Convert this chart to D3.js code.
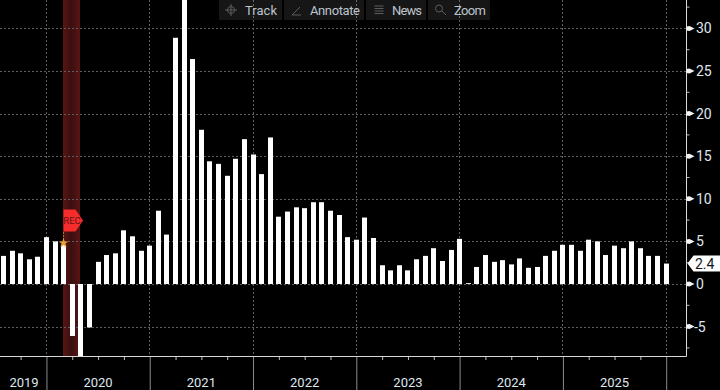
<!DOCTYPE html>
<html>
<head>
<meta charset="utf-8">
<script src="https://cdn.jsdelivr.net/npm/d3@7"></script>
<style>
  html, body { margin: 0; padding: 0; background: #000; overflow: hidden; }
  text { font-family: Roboto, "Noto Sans", sans-serif; }
</style>
</head>
<body>
<div id="chart"></div>
<script>
// monthly values, Aug 2019 to Jan 2026
const values = [
  3.3, 3.9, 3.6, 2.9, 3.2,
  5.5, 5.0, 4.6, -6.1, -9.5, -5.1, 2.6, 3.4, 3.6, 6.3, 5.6, 3.9,
  4.5, 8.6, 5.8, 28.9, 35, 26.4, 18.1, 14.4, 14.1, 12.7, 14.7, 17.0,
  15.2, 12.9, 17.2, 7.9, 8.5, 9.0, 8.9, 9.6, 9.6, 8.6, 8.1, 5.5,
  5.2, 7.8, 5.4, 2.2, 1.6, 2.2, 1.6, 2.9, 3.3, 4.2, 2.7, 4.0,
  5.3, 0.1, 2.0, 3.4, 2.6, 2.8, 2.3, 3.0, 1.9, 2.0, 3.3, 3.9,
  4.6, 4.6, 3.9, 5.2, 5.0, 3.4, 4.5, 4.2, 5.0, 4.2, 3.3, 3.3,
  2.4
];
const yearLabels = ["2019", "2020", "2021", "2022", "2023", "2024", "2025"];
const yearLabelAt = [2.4, 11, 23, 35, 47, 59, 71];  // bar index under each label
const yearStarts = [5, 17, 29, 41, 53, 65, 77];     // bar index of each January
const quarterTicks = [2, 8, 11, 14, 20, 23, 26, 32, 35, 38, 44, 47, 50, 56, 59, 62, 68, 71, 74];
const yMajor = [-5, 0, 5, 10, 15, 20, 25, 30];
const yMinor = [-7.5, -2.5, 2.5, 7.5, 12.5, 17.5, 22.5, 27.5, 32.5];
const lastValue = 2.4;
const recession = [7, 9];  // bar index range of the shaded band
const toolbar = ["Track", "Annotate", "News", "Zoom"];

const width = 720, height = 390, plotRight = 686.5, plotBottom = 356;

const x = d3.scaleLinear().domain([0, 77]).range([3.4, 666.2]);
const y = d3.scaleLinear().domain([0, 30]).range([284, 28.4]);

const svg = d3.select("#chart").append("svg")
  .attr("width", width)
  .attr("height", height)
  .style("display", "block");

const defs = svg.append("defs");

defs.append("clipPath").attr("id", "plot")
  .append("rect")
  .attr("width", plotRight)
  .attr("height", plotBottom);

const bandGrad = defs.append("linearGradient").attr("id", "recBand");
bandGrad.append("stop").attr("offset", "0%").attr("stop-color", "#5a1414");
bandGrad.append("stop").attr("offset", "50%").attr("stop-color", "#3a0f0f");
bandGrad.append("stop").attr("offset", "100%").attr("stop-color", "#5a1414");

// recession band
svg.append("rect")
  .attr("x", Math.floor(x(recession[0])))
  .attr("y", 0)
  .attr("width", Math.floor(x(recession[1])) - Math.floor(x(recession[0])))
  .attr("height", plotBottom)
  .attr("fill", "url(#recBand)");

// dotted grid
const grid = svg.append("g")
  .attr("stroke", "#5e5e5e")
  .attr("stroke-width", 1)
  .attr("stroke-dasharray", "2 2");

grid.selectAll("line.h")
  .data(yMajor)
  .join("line")
  .attr("class", "h")
  .attr("x1", 0)
  .attr("x2", plotRight)
  .attr("y1", d => Math.round(y(d)) + 0.5)
  .attr("y2", d => Math.round(y(d)) + 0.5);

grid.selectAll("line.v")
  .data(yearStarts)
  .join("line")
  .attr("class", "v")
  .attr("x1", d => Math.floor(x(d)) + 0.5)
  .attr("x2", d => Math.floor(x(d)) + 0.5)
  .attr("y1", 0)
  .attr("y2", plotBottom);

// bars
svg.append("g")
  .attr("clip-path", "url(#plot)")
  .attr("fill", "#fff")
  .selectAll("rect")
  .data(values)
  .join("rect")
  .attr("x", (d, i) => Math.round(x(i) - 2.5))
  .attr("width", 5)
  .attr("y", d => y(Math.max(d, 0)))
  .attr("height", d => Math.abs(y(d) - y(0)));

// x axis: year ticks run down through the label row
const xAxis = svg.append("g").attr("transform", `translate(0,${plotBottom})`);

xAxis.append("g")
  .attr("class", "years")
  .call(d3.axisBottom(x).tickValues(yearStarts).tickSize(34).tickFormat(""))
  .call(g => g.select(".domain").remove())
  .selectAll("line")
  .attr("stroke", "#8c8c8c");

xAxis.append("g")
  .call(d3.axisBottom(x).tickValues(quarterTicks).tickSize(4).tickFormat(""))
  .call(g => g.select(".domain").remove())
  .selectAll("line")
  .attr("stroke", "#bdbdbd");

xAxis.append("line")
  .attr("x1", 0)
  .attr("x2", plotRight)
  .attr("y1", 0.5)
  .attr("y2", 0.5)
  .attr("stroke", "#d8d8d8");

xAxis.selectAll("text.year")
  .data(yearLabels)
  .join("text")
  .attr("class", "year")
  .attr("x", (d, i) => x(yearLabelAt[i]))
  .attr("y", 31)
  .attr("text-anchor", "middle")
  .attr("font-size", 13)
  .attr("fill", "#dfe6ee")
  .text(d => d);

// y axis on the right
const yAxis = svg.append("g").attr("transform", `translate(${plotRight},0)`);

yAxis.append("line")
  .attr("y1", 0)
  .attr("y2", plotBottom + 0.5)
  .attr("stroke", "#d8d8d8");

yAxis.selectAll("path.major")
  .data(yMajor)
  .join("path")
  .attr("class", "major")
  .attr("transform", d => `translate(0,${y(d)})`)
  .attr("d", "M0,-2L3,-2.5L8,0L3,2.5L0,2Z")
  .attr("fill", "#f4f4f4");

yAxis.selectAll("line.minor")
  .data(yMinor)
  .join("line")
  .attr("class", "minor")
  .attr("x2", 3)
  .attr("y1", d => y(d))
  .attr("y2", d => y(d))
  .attr("stroke", "#bdbdbd");

yAxis.selectAll("text.tick")
  .data(yMajor)
  .join("text")
  .attr("class", "tick")
  .attr("x", d => d < 0 ? 7.5 : 9.5)
  .attr("y", d => y(d) + 5)
  .attr("font-size", 14)
  .attr("fill", "#dfe6ee")
  .text(d => d);

// last value tag
const lastTag = yAxis.append("g").attr("transform", `translate(0,${y(lastValue)})`);
lastTag.append("path")
  .attr("d", "M1,0L7,-8L33.5,-8L33.5,8L7,8Z")
  .attr("fill", "#fff");
lastTag.append("text")
  .attr("x", 8.5)
  .attr("y", 5)
  .attr("font-size", 14)
  .attr("fill", "#101828")
  .text(lastValue);

// REC marker
const rec = svg.append("g").attr("transform", `translate(${Math.floor(x(recession[0])) + 0.5},0)`);
rec.append("line")
  .attr("y1", 232)
  .attr("y2", 241)
  .attr("stroke", "#b8701c")
  .attr("stroke-dasharray", "2 1");
rec.append("path")
  .attr("d", d3.symbol(d3.symbolStar, 30)())
  .attr("transform", "translate(0,243)")
  .attr("fill", "#e8a030");
rec.append("path")
  .attr("d", "M0,209.5L12,209.5L19.5,220.5L12,231.5L0,231.5Z")
  .attr("fill", "#f52d2d");
rec.append("text")
  .attr("x", 8.5)
  .attr("y", 223.5)
  .attr("text-anchor", "middle")
  .attr("font-size", 9.5)
  .attr("fill", "#6a1010")
  .text("REC");

// toolbar along the top, the grid shows through it
const toolbarBoxes = [[219, 63], [284, 80], [366, 60], [428, 62]];
const toolbarTextX = [245, 310, 392, 454];
const tools = svg.append("g");

tools.selectAll("rect")
  .data(toolbar)
  .join("rect")
  .attr("x", (d, i) => toolbarBoxes[i][0])
  .attr("width", (d, i) => toolbarBoxes[i][1])
  .attr("y", 0)
  .attr("height", 20)
  .attr("fill", "#fff")
  .attr("fill-opacity", 0.085);

tools.selectAll("text")
  .data(toolbar)
  .join("text")
  .attr("x", (d, i) => toolbarTextX[i])
  .attr("y", 15)
  .attr("font-size", 13)
  .attr("textLength", (d, i) => [32, 50, 30, 32][i])
  .attr("fill", "#bcc4cc")
  .text(d => d);

// little toolbar icons
tools.append("g")
  .attr("transform", "translate(231,10)")
  .attr("stroke", "#5c5c5c")
  .attr("fill", "none")
  .call(g => g.append("circle").attr("r", 3.5))
  .call(g => g.append("path").attr("d", "M-6,0H6M0,-6V6"));
tools.append("path")
  .attr("d", "M292,15L300,7M292,15H301")
  .attr("stroke", "#5c5c5c")
  .attr("fill", "none");
tools.append("path")
  .attr("d", "M374.5,6H383.5M374.5,8.5H383.5M374.5,11H383.5M374.5,13.5H383.5")
  .attr("stroke", "#5c5c5c")
  .attr("fill", "none");
tools.append("g")
  .attr("stroke", "#5c5c5c")
  .attr("fill", "none")
  .call(g => g.append("circle").attr("cx", 439).attr("cy", 8.5).attr("r", 3.5))
  .call(g => g.append("path").attr("d", "M442,11L446,15"));
</script>
</body>
</html>
